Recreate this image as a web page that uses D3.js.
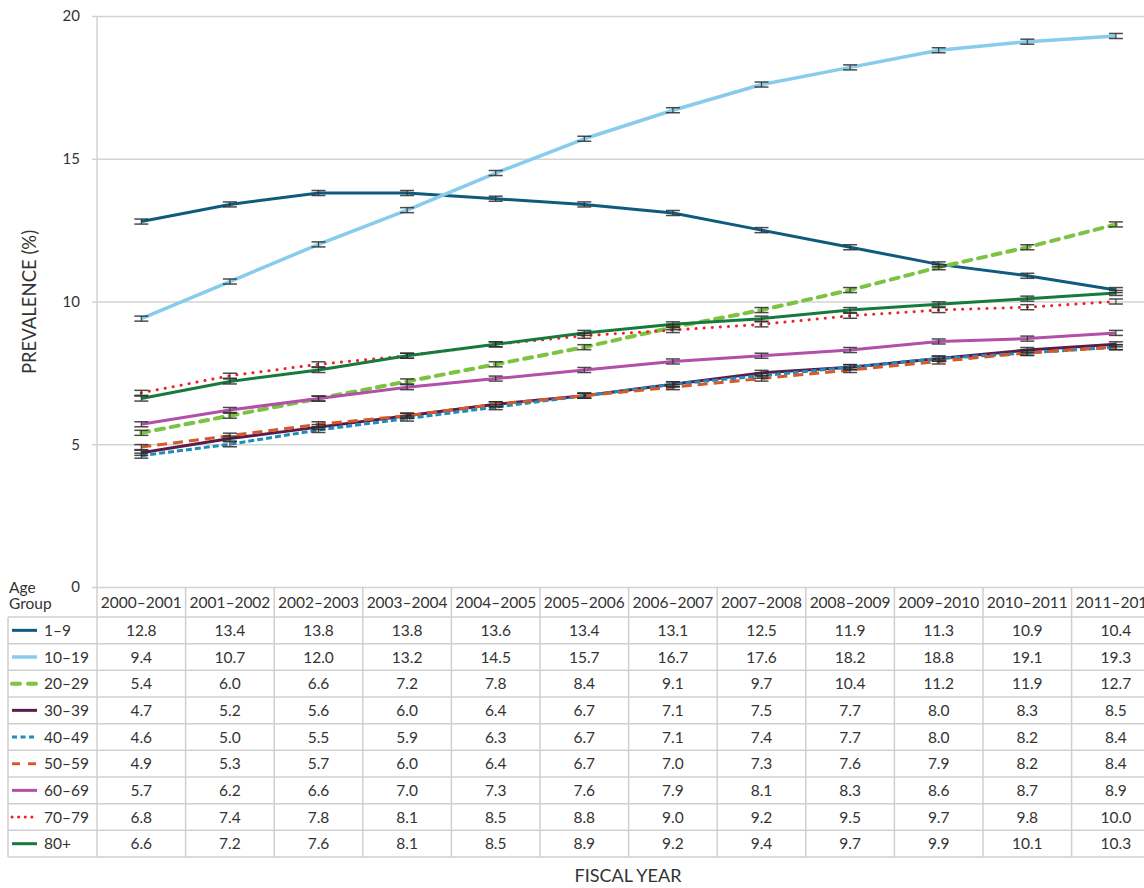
<!DOCTYPE html>
<html>
<head>
<meta charset="utf-8">
<script src="https://cdn.jsdelivr.net/npm/d3@7"></script>
<style>
  html, body { margin: 0; padding: 0; background: #fff; }
  svg text { font-family: Lato, "Noto Sans", sans-serif; fill: #333; }
</style>
</head>
<body>
<svg id="chart" width="1144" height="888"></svg>
<script>
// Fiscal years (columns)
const fiscalYears = ["2000–2001","2001–2002","2002–2003","2003–2004","2004–2005","2005–2006",
                     "2006–2007","2007–2008","2008–2009","2009–2010","2010–2011","2011–2012"];
// Age groups (rows)
const ageGroups = ["1–9","10–19","20–29","30–39","40–49","50–59","60–69","70–79","80+"];
// Prevalence (%) by age group
const prev_1_9   = [12.8,13.4,13.8,13.8,13.6,13.4,13.1,12.5,11.9,11.3,10.9,10.4];
const prev_10_19 = [9.4,10.7,12.0,13.2,14.5,15.7,16.7,17.6,18.2,18.8,19.1,19.3];
const prev_20_29 = [5.4,6.0,6.6,7.2,7.8,8.4,9.1,9.7,10.4,11.2,11.9,12.7];
const prev_30_39 = [4.7,5.2,5.6,6.0,6.4,6.7,7.1,7.5,7.7,8.0,8.3,8.5];
const prev_40_49 = [4.6,5.0,5.5,5.9,6.3,6.7,7.1,7.4,7.7,8.0,8.2,8.4];
const prev_50_59 = [4.9,5.3,5.7,6.0,6.4,6.7,7.0,7.3,7.6,7.9,8.2,8.4];
const prev_60_69 = [5.7,6.2,6.6,7.0,7.3,7.6,7.9,8.1,8.3,8.6,8.7,8.9];
const prev_70_79 = [6.8,7.4,7.8,8.1,8.5,8.8,9.0,9.2,9.5,9.7,9.8,10.0];
const prev_80    = [6.6,7.2,7.6,8.1,8.5,8.9,9.2,9.4,9.7,9.9,10.1,10.3];
// 95% confidence interval half-widths (percentage points)
const ciHalf = [0.06,0.06,0.06,0.06,0.06,0.06,0.06,0.06,0.06];
// Y-axis ticks
const yTicks = [0,5,10,15,20];

const series = [prev_1_9, prev_10_19, prev_20_29, prev_30_39, prev_40_49,
                prev_50_59, prev_60_69, prev_70_79, prev_80];

const styles = [
  {color:"#0f5b7d", width:3,   dash:null,   cap:"butt"},
  {color:"#87ccec", width:3.5, dash:null,   cap:"butt"},
  {color:"#7cc243", width:4,   dash:"8,7",  cap:"round"},
  {color:"#5d1b4c", width:3,   dash:null,   cap:"butt"},
  {color:"#1a8fbb", width:3,   dash:"6,3",  cap:"butt"},
  {color:"#d35a2b", width:3,   dash:"10,6", cap:"butt"},
  {color:"#b24fa8", width:3,   dash:null,   cap:"butt"},
  {color:"#ee2129", width:3,   dash:"0.1,8",cap:"round"},
  {color:"#177a3d", width:3,   dash:null,   cap:"butt"}
];

const svg = d3.select("#chart");
const W = 1144;
const colLeft = 97, colW = 88.6;
const plotTop = 16, plotBottom = 587;
const tableTop = 587, headerBottom = 617, rowH = 26.67;
const tableLeft = 8;

const x = d3.scaleBand().domain(fiscalYears)
  .range([colLeft, colLeft + colW * fiscalYears.length]).padding(0);
const y = d3.scaleLinear().domain([0, 20]).range([plotBottom, plotTop]);

// Gridlines and y tick labels
const yAxis = d3.axisLeft(y).tickValues(yTicks).tickSize(-(W - 92)).tickPadding(12);
const gy = svg.append("g").attr("transform", `translate(92,0)`).call(yAxis);
gy.select(".domain").remove();
gy.selectAll(".tick line").attr("stroke", "#d3d3d3").attr("stroke-width", 1.5)
  .attr("x1", 0);
gy.selectAll(".tick text").attr("font-size", 15).attr("fill", "#333")
  .style("font-family", "Lato, 'Noto Sans', sans-serif");

// Vertical axis line
svg.append("line").attr("x1", colLeft).attr("x2", colLeft)
  .attr("y1", plotTop).attr("y2", plotBottom)
  .attr("stroke", "#d3d3d3").attr("stroke-width", 1.5);

// Axis titles
svg.append("text").attr("transform", "translate(36,302) rotate(-90)")
  .attr("text-anchor", "middle").attr("font-size", 18.5).text("PREVALENCE (%)");
svg.append("text").attr("x", 628).attr("y", 882)
  .attr("text-anchor", "middle").attr("font-size", 18).text("FISCAL YEAR");

// Lines
const cx = d => x(d) + x.bandwidth() / 2;
const line = d3.line().x((d, i) => cx(fiscalYears[i])).y(d => y(d));
const gLines = svg.append("g");
series.forEach((s, k) => {
  const st = styles[k];
  gLines.append("path").datum(s).attr("d", line)
    .attr("fill", "none").attr("stroke", st.color)
    .attr("stroke-width", st.width)
    .attr("stroke-dasharray", st.dash)
    .attr("stroke-linecap", st.cap)
    .attr("stroke-linejoin", "round");
});

// Error bars
const gErr = svg.append("g").attr("stroke", "#2b2b2b").attr("stroke-opacity", 0.85);
series.forEach((s, k) => {
  s.forEach((v, i) => {
    const px = cx(fiscalYears[i]);
    const lo = y(v - ciHalf[k]), hi = y(v + ciHalf[k]);
    gErr.append("line").attr("x1", px - 7).attr("x2", px + 7).attr("y1", hi - 0.8).attr("y2", hi - 0.8).attr("stroke-width", 1.5);
    gErr.append("line").attr("x1", px - 7).attr("x2", px + 7).attr("y1", lo + 0.8).attr("y2", lo + 0.8).attr("stroke-width", 1.5);
    gErr.append("line").attr("x1", px).attr("x2", px).attr("y1", hi - 0.8).attr("y2", lo + 0.8).attr("stroke-width", 1.2);
  });
});

// Data table
const gT = svg.append("g");
const nRows = ageGroups.length;
const tableBottom = headerBottom + rowH * nRows;
const gridColor = "#cfcfcf";
// column separators
d3.range(fiscalYears.length + 1).forEach(i => {
  const xx = colLeft + colW * i;
  gT.append("line").attr("x1", xx).attr("x2", xx)
    .attr("y1", tableTop).attr("y2", tableBottom)
    .attr("stroke", gridColor).attr("stroke-width", 1.5);
});
gT.append("line").attr("x1", tableLeft).attr("x2", tableLeft)
  .attr("y1", headerBottom).attr("y2", tableBottom)
  .attr("stroke", gridColor).attr("stroke-width", 1.5);
// row separators
d3.range(nRows + 1).forEach(r => {
  const yy = headerBottom + rowH * r;
  gT.append("line").attr("x1", tableLeft).attr("x2", W)
    .attr("y1", yy).attr("y2", yy)
    .attr("stroke", gridColor).attr("stroke-width", 1.5);
});
// header
gT.append("text").attr("x", 9).attr("y", 593).attr("font-size", 15.5).text("Age");
gT.append("text").attr("x", 9).attr("y", 609).attr("font-size", 15.5).text("Group");
fiscalYears.forEach(fy => {
  gT.append("text").attr("x", cx(fy)).attr("y", 608)
    .attr("text-anchor", "middle").attr("font-size", 15.5).text(fy);
});
// rows
series.forEach((s, k) => {
  const st = styles[k];
  const rc = headerBottom + rowH * k + rowH / 2;
  gT.append("line").attr("x1", 12).attr("x2", 37).attr("y1", rc).attr("y2", rc)
    .attr("stroke", st.color).attr("stroke-width", st.width)
    .attr("stroke-dasharray", st.dash ? (k === 7 ? "0.1,6.5" : (k === 4 ? "5,3.5" : "8,8")) : null)
    .attr("stroke-linecap", st.cap);
  gT.append("text").attr("x", 44).attr("y", rc + 5.5).attr("font-size", 15.5).text(ageGroups[k]);
  s.forEach((v, i) => {
    gT.append("text").attr("x", cx(fiscalYears[i])).attr("y", rc + 5.5)
      .attr("text-anchor", "middle").attr("font-size", 15.5).text(d3.format(".1f")(v));
  });
});
</script>
</body>
</html>
